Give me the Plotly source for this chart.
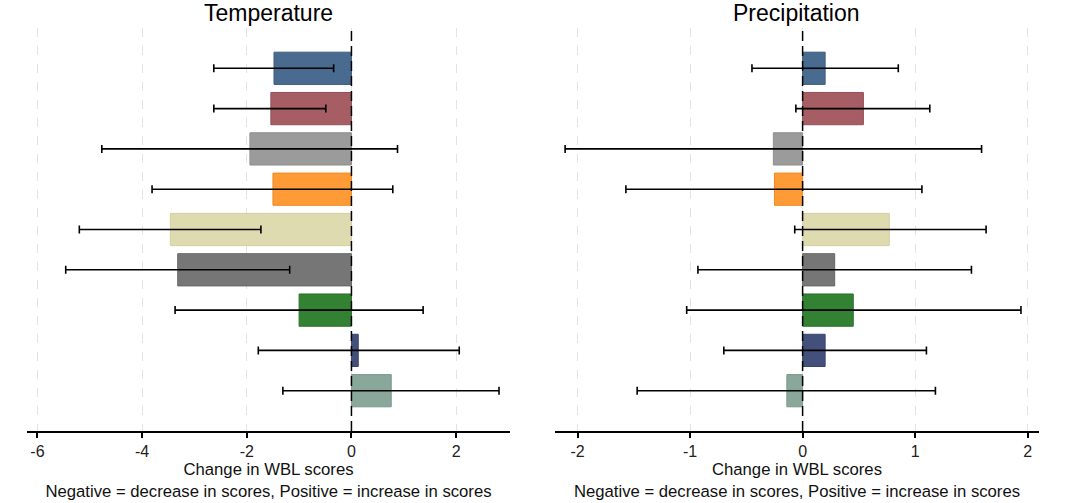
import plotly.graph_objects as go

# ---- data ----
rows = [1, 2, 3, 4, 5, 6, 7, 8, 9]
colors = ["#486b8f", "#a65d63", "#9b9b9b", "#fe9b36", "#dedbb1",
          "#767676", "#338133", "#44507c", "#8aa79b"]
edge_colors = ["#3d5e80", "#93505a", "#8e8e8e", "#f08a20", "#d3cf9f",
               "#686868", "#2a6f2a", "#38436c", "#7b988c"]

temp_est = [-1.48, -1.54, -1.94, -1.50, -3.46, -3.32, -1.00, 0.13, 0.76]
temp_lo = [-2.63, -2.63, -4.77, -3.81, -5.20, -5.46, -3.37, -1.78, -1.31]
temp_hi = [-0.34, -0.49, 0.88, 0.79, -1.73, -1.18, 1.37, 2.06, 2.82]

prec_est = [0.20, 0.54, -0.26, -0.25, 0.77, 0.285, 0.45, 0.20, -0.14]
prec_lo = [-0.45, -0.06, -2.11, -1.57, -0.07, -0.93, -1.03, -0.70, -1.47]
prec_hi = [0.85, 1.13, 1.59, 1.06, 1.63, 1.50, 1.94, 1.10, 1.18]

temp_ticks = [-6, -4, -2, 0, 2]
temp_ticktext = ["-6", "-4", "-2", "0", "2"]
prec_ticks = [-2, -1, 0, 1, 2]
prec_ticktext = ["-2", "-1", "0", "1", "2"]

panel_titles = ["Temperature", "Precipitation"]
x_title = "Change in WBL scores<br>Negative = decrease in scores, Positive = increase in scores"

FONT = "Liberation Sans, Arial, sans-serif"

fig = go.Figure()


def add_panel(est, lo, hi, xa, ya):
    fig.add_trace(go.Bar(
        x=est, y=rows, orientation="h", width=0.8,
        marker=dict(color=colors, line=dict(color=edge_colors, width=1)),
        error_x=dict(type="data", symmetric=False,
                     array=[h - e for h, e in zip(hi, est)],
                     arrayminus=[e - l for e, l in zip(est, lo)],
                     color="black", thickness=1.6, width=4),
        xaxis=xa, yaxis=ya, showlegend=False, hoverinfo="x",
    ))


add_panel(temp_est, temp_lo, temp_hi, "x", "y")
add_panel(prec_est, prec_lo, prec_hi, "x2", "y2")

axis_common = dict(
    showgrid=True, griddash="dash", gridcolor="#e3e3e3", gridwidth=1.2,
    zeroline=False, showline=True, linecolor="black", linewidth=1.5,
    ticks="outside", ticklen=5, tickcolor="black", tickwidth=1.5,
    tickfont=dict(size=16, color="#222", family=FONT),
    title=dict(text=x_title, font=dict(size=16.7, color="#111", family=FONT), standoff=3),
)
yaxis_common = dict(range=[10, 0], showgrid=False, zeroline=False, showline=False,
                    showticklabels=False, ticks="")

fig.update_layout(
    width=1071, height=503,
    margin=dict(l=0, r=0, t=28, b=72),
    paper_bgcolor="white", plot_bgcolor="white",
    font=dict(family=FONT),
    bargap=0.2,
    xaxis=dict(domain=[0.0252, 0.4762], range=[-6.2, 3.03],
               tickvals=temp_ticks, ticktext=temp_ticktext, anchor="y", **axis_common),
    yaxis=dict(domain=[0, 1], anchor="x", **yaxis_common),
    xaxis2=dict(domain=[0.5182, 0.9701], range=[-2.2, 2.1],
                tickvals=prec_ticks, ticktext=prec_ticktext, anchor="y2", **axis_common),
    yaxis2=dict(domain=[0, 1], anchor="x2", **yaxis_common),
)

# zero reference lines
for xr in ["x", "x2"]:
    fig.add_shape(type="line", xref=xr, yref="paper", x0=0, x1=0, y0=0, y1=1,
                  line=dict(color="black", width=1.5, dash="10px,5px"), layer="above")

# panel titles
for xd, t in zip([(0.0252 + 0.4762) / 2, (0.5182 + 0.9701) / 2], panel_titles):
    fig.add_annotation(text=t, x=xd, y=1, xref="paper", yref="paper",
                       xanchor="center", yanchor="bottom", showarrow=False,
                       yshift=0, font=dict(size=23, color="black", family=FONT))

fig.write_html("out.html", config={"displayModeBar": False},
               post_script="document.body.style.margin='0';")
